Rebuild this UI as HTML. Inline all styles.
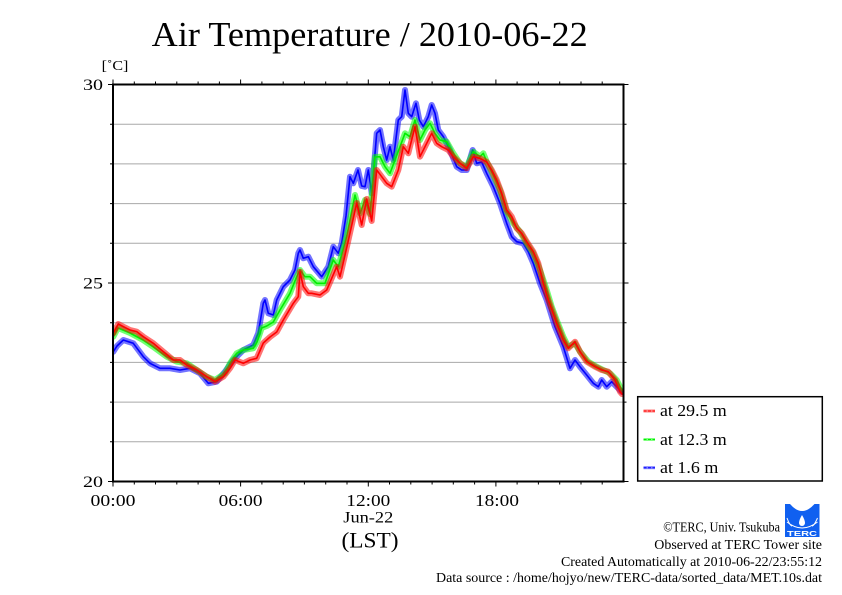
<!DOCTYPE html>
<html><head><meta charset="utf-8">
<style>
html,body{margin:0;padding:0;background:#fff;}
svg{display:block;}
text{font-family:"Liberation Serif","DejaVu Serif",serif;fill:#000;}
</style></head>
<body>
<svg width="842" height="595" viewBox="0 0 842 595" xmlns="http://www.w3.org/2000/svg">
<defs><clipPath id="pc"><rect x="113" y="84.5" width="510.5" height="397"/></clipPath></defs>
<rect width="842" height="595" fill="#fff"/>
<text x="151.7" y="46" font-size="35" textLength="436" lengthAdjust="spacingAndGlyphs">Air Temperature / 2010-06-22</text>
<text x="101.7" y="70" font-size="14" textLength="26.7" lengthAdjust="spacingAndGlyphs">[˚C]</text>
<!-- grid -->
<g stroke="#a8a8a8" stroke-width="1">
<line x1="113" x2="623.5" y1="441.8" y2="441.8"/>
<line x1="113" x2="623.5" y1="402.1" y2="402.1"/>
<line x1="113" x2="623.5" y1="362.4" y2="362.4"/>
<line x1="113" x2="623.5" y1="322.7" y2="322.7"/>
<line x1="113" x2="623.5" y1="283" y2="283"/>
<line x1="113" x2="623.5" y1="243.3" y2="243.3"/>
<line x1="113" x2="623.5" y1="203.6" y2="203.6"/>
<line x1="113" x2="623.5" y1="163.9" y2="163.9"/>
<line x1="113" x2="623.5" y1="124.2" y2="124.2"/>
</g>
<g clip-path="url(#pc)" fill="none" stroke-linejoin="round" stroke-linecap="round">
<polyline stroke="rgba(0,0,255,0.55)" stroke-width="6" id="b" points="113.3,351.7 117,346 123.3,340 133.3,343.3 143.3,356.7 150,363.3 160,368.3 170,368.3 180,370 190,368.3 200,373.3 208.3,383.3 216.7,381.7 225,371.7 233.3,360 243.3,350 253.3,345 258.3,333 263.3,303.3 265,300 268.3,313.3 273.3,315 276.7,300 283.3,286.7 290,280 295,270 298.3,253.3 300,250 303.3,258.3 308.3,256.7 313.3,266.7 321.7,276.7 328.3,266.7 333.3,246.7 338.3,253.3 341.7,243.3 346,216 350,176.7 353.3,183.3 358,170 361.7,186 365,186.7 368.3,170 371.7,193.3 376.7,133.3 380,130 383.3,146.7 386.7,160 390,146.7 393.3,160 398.3,120 401.7,116.7 405,90 408.3,113.3 411.7,116.7 416,103.3 419.3,120 423.3,126.7 428.3,116.7 431.7,105 435,113.3 438.3,130 443.3,136.7 450,150 456.7,166.7 461.7,170 466.7,170 472.7,150 476.7,163.3 481.7,162 486.7,173.3 493.3,186.7 500,203.3 506.7,223.3 511.7,236.7 516.7,241.7 523.3,243.3 528.3,251.7 533.3,263.3 540,283.3 546.7,300 555,326.7 563.3,346.7 570,368.3 575,360 580,366.7 586.7,375 593.3,383.3 598.3,386.7 601.7,380 606.7,386.7 611.7,381.7 616.7,386.7 620,390 622,392"/>
<polyline stroke="#0000ff" stroke-width="1.6" points="113.3,351.7 117,346 123.3,340 133.3,343.3 143.3,356.7 150,363.3 160,368.3 170,368.3 180,370 190,368.3 200,373.3 208.3,383.3 216.7,381.7 225,371.7 233.3,360 243.3,350 253.3,345 258.3,333 263.3,303.3 265,300 268.3,313.3 273.3,315 276.7,300 283.3,286.7 290,280 295,270 298.3,253.3 300,250 303.3,258.3 308.3,256.7 313.3,266.7 321.7,276.7 328.3,266.7 333.3,246.7 338.3,253.3 341.7,243.3 346,216 350,176.7 353.3,183.3 358,170 361.7,186 365,186.7 368.3,170 371.7,193.3 376.7,133.3 380,130 383.3,146.7 386.7,160 390,146.7 393.3,160 398.3,120 401.7,116.7 405,90 408.3,113.3 411.7,116.7 416,103.3 419.3,120 423.3,126.7 428.3,116.7 431.7,105 435,113.3 438.3,130 443.3,136.7 450,150 456.7,166.7 461.7,170 466.7,170 472.7,150 476.7,163.3 481.7,162 486.7,173.3 493.3,186.7 500,203.3 506.7,223.3 511.7,236.7 516.7,241.7 523.3,243.3 528.3,251.7 533.3,263.3 540,283.3 546.7,300 555,326.7 563.3,346.7 570,368.3 575,360 580,366.7 586.7,375 593.3,383.3 598.3,386.7 601.7,380 606.7,386.7 611.7,381.7 616.7,386.7 620,390 622,392"/>
<polyline stroke="rgba(0,255,0,0.55)" stroke-width="6" points="113.3,336.7 118,328 130,333 143,340 153,346.7 166.7,356.7 176.7,361.7 186.7,363.3 196.7,370 206.7,376.7 215,380 225,373.3 230,363.3 236.7,353.3 243.3,350 253.3,348.3 257,342 261.7,328 266.7,326 273.3,322 280,310 290,293.3 296.7,276.7 300,270 305,276.7 310,276.7 316.7,283.3 325,283.3 333.3,260 338.3,266.7 346.7,236 355,195 360,213.3 365,200 370,214 375,157 380,156.7 385,166.7 390,173.3 395,160 400,146.7 405,133.3 410,136.7 415,120 420,140 425,130 430,123.3 435,133.3 440,140 446.7,141.7 453.3,153.3 460,163.3 466.7,166.7 473.3,151.7 480,156.7 483.3,153.3 486.7,161.7 493.3,175 500,190 506.7,211.7 513.3,223.3 520,231.7 526.7,243.3 533.3,253.3 540,270 546.7,290 551.7,306.7 556.7,320 563.3,336.7 568.3,346.7 575,343.3 580,351.7 588.3,361.7 596.7,366.7 603.3,370 610,373.3 616.7,380 620,386.7 622,390"/>
<polyline stroke="#00ee00" stroke-width="1.6" points="113.3,336.7 118,328 130,333 143,340 153,346.7 166.7,356.7 176.7,361.7 186.7,363.3 196.7,370 206.7,376.7 215,380 225,373.3 230,363.3 236.7,353.3 243.3,350 253.3,348.3 257,342 261.7,328 266.7,326 273.3,322 280,310 290,293.3 296.7,276.7 300,270 305,276.7 310,276.7 316.7,283.3 325,283.3 333.3,260 338.3,266.7 346.7,236 355,195 360,213.3 365,200 370,214 375,157 380,156.7 385,166.7 390,173.3 395,160 400,146.7 405,133.3 410,136.7 415,120 420,140 425,130 430,123.3 435,133.3 440,140 446.7,141.7 453.3,153.3 460,163.3 466.7,166.7 473.3,151.7 480,156.7 483.3,153.3 486.7,161.7 493.3,175 500,190 506.7,211.7 513.3,223.3 520,231.7 526.7,243.3 533.3,253.3 540,270 546.7,290 551.7,306.7 556.7,320 563.3,336.7 568.3,346.7 575,343.3 580,351.7 588.3,361.7 596.7,366.7 603.3,370 610,373.3 616.7,380 620,386.7 622,390"/>
<polyline stroke="rgba(255,0,0,0.55)" stroke-width="6" points="113.3,333.3 118.3,324 124,327 130,330 136.7,331.7 143.3,336.7 153.3,343.3 163.3,351.7 173.3,360 180,360 186.7,365 196.7,370 206.7,376.7 215,381.7 223.3,376.7 230,368.3 235,360 243.3,363.3 250,360 256.7,358.3 263.3,343 270,337 276.7,332 283.3,320 293.3,303.3 298.3,296.7 300,271.7 303.3,286.7 308.3,293.3 311.7,293.3 320,295 326.7,290 336.7,266.7 340,276.7 348,242 356.7,203 361.7,225 366.7,199 371.7,221 376.7,170 381.7,176.7 386.7,183.3 391.7,186.7 398.3,170 403.3,146.7 408.3,153.3 415,126.7 420,156.7 425,146.7 431.7,133.3 436.7,143.3 441.7,146.7 448.3,150 453.3,156.7 460,163.3 466.7,168.3 473.3,156.7 480,158.3 486.7,162 491.7,170 496.7,180 501.7,193.3 506.7,210 511.7,216.7 516.7,228.3 521.7,233.3 526.7,241.7 533.3,251.7 538.3,263.3 543.3,283.3 548.3,300 556.7,323.3 563.3,340 568.3,348.3 575,341.7 580,351.7 586.7,361.7 595,366.7 601.7,370 608.3,371.7 615,380 620,391.7 622,394"/>
<polyline stroke="#ff0000" stroke-width="1.6" points="113.3,333.3 118.3,324 124,327 130,330 136.7,331.7 143.3,336.7 153.3,343.3 163.3,351.7 173.3,360 180,360 186.7,365 196.7,370 206.7,376.7 215,381.7 223.3,376.7 230,368.3 235,360 243.3,363.3 250,360 256.7,358.3 263.3,343 270,337 276.7,332 283.3,320 293.3,303.3 298.3,296.7 300,271.7 303.3,286.7 308.3,293.3 311.7,293.3 320,295 326.7,290 336.7,266.7 340,276.7 348,242 356.7,203 361.7,225 366.7,199 371.7,221 376.7,170 381.7,176.7 386.7,183.3 391.7,186.7 398.3,170 403.3,146.7 408.3,153.3 415,126.7 420,156.7 425,146.7 431.7,133.3 436.7,143.3 441.7,146.7 448.3,150 453.3,156.7 460,163.3 466.7,168.3 473.3,156.7 480,158.3 486.7,162 491.7,170 496.7,180 501.7,193.3 506.7,210 511.7,216.7 516.7,228.3 521.7,233.3 526.7,241.7 533.3,251.7 538.3,263.3 543.3,283.3 548.3,300 556.7,323.3 563.3,340 568.3,348.3 575,341.7 580,351.7 586.7,361.7 595,366.7 601.7,370 608.3,371.7 615,380 620,391.7 622,394"/>
</g>
<!-- frame -->
<rect x="113" y="84.5" width="510.5" height="397" fill="none" stroke="#000" stroke-width="2"/>
<!-- y ticks -->
<g stroke="#000" stroke-width="1">
<path d="M108,84.5H113M110,124.2H113M110,163.9H113M110,203.6H113M110,243.3H113M108,283H113M110,322.7H113M110,362.4H113M110,402.1H113M110,441.8H113M108,481.5H113"/>
<path d="M623.5,84.5H628.5M623.5,124.2H626.5M623.5,163.9H626.5M623.5,203.6H626.5M623.5,243.3H626.5M623.5,283H628.5M623.5,322.7H626.5M623.5,362.4H626.5M623.5,402.1H626.5M623.5,441.8H626.5M623.5,481.5H628.5"/>
<path d="M113,84.5V79.5M134.3,84.5V81.5M155.5,84.5V81.5M176.8,84.5V81.5M198.1,84.5V81.5M219.4,84.5V81.5M240.6,84.5V79.5M261.9,84.5V81.5M283.2,84.5V81.5M304.4,84.5V81.5M325.7,84.5V81.5M347,84.5V81.5M368.3,84.5V79.5M389.5,84.5V81.5M410.8,84.5V81.5M432.1,84.5V81.5M453.3,84.5V81.5M474.6,84.5V81.5M495.9,84.5V79.5M517.1,84.5V81.5M538.4,84.5V81.5M559.7,84.5V81.5M581,84.5V81.5M602.2,84.5V81.5"/>
<path d="M113,481.5V486.5M134.3,481.5V484.5M155.5,481.5V484.5M176.8,481.5V484.5M198.1,481.5V484.5M219.4,481.5V484.5M240.6,481.5V486.5M261.9,481.5V484.5M283.2,481.5V484.5M304.4,481.5V484.5M325.7,481.5V484.5M347,481.5V484.5M368.3,481.5V486.5M389.5,481.5V484.5M410.8,481.5V484.5M432.1,481.5V484.5M453.3,481.5V484.5M474.6,481.5V484.5M495.9,481.5V486.5M517.1,481.5V484.5M538.4,481.5V484.5M559.7,481.5V484.5M581,481.5V484.5M602.2,481.5V484.5"/>
</g>
<!-- y labels -->
<text x="103" y="90" font-size="16" text-anchor="end" textLength="20" lengthAdjust="spacingAndGlyphs">30</text>
<text x="103" y="288.5" font-size="16" text-anchor="end" textLength="20" lengthAdjust="spacingAndGlyphs">25</text>
<text x="103" y="487" font-size="16" text-anchor="end" textLength="20" lengthAdjust="spacingAndGlyphs">20</text>
<!-- x labels -->
<text x="113" y="506" font-size="17" text-anchor="middle" textLength="45" lengthAdjust="spacingAndGlyphs">00:00</text>
<text x="240.6" y="506" font-size="17" text-anchor="middle" textLength="44" lengthAdjust="spacingAndGlyphs">06:00</text>
<text x="368.3" y="506" font-size="17" text-anchor="middle" textLength="44" lengthAdjust="spacingAndGlyphs">12:00</text>
<text x="497" y="506" font-size="17" text-anchor="middle" textLength="44" lengthAdjust="spacingAndGlyphs">18:00</text>
<text x="368.3" y="522.5" font-size="16" text-anchor="middle" textLength="50" lengthAdjust="spacingAndGlyphs">Jun-22</text>
<text x="370" y="547.5" font-size="22" text-anchor="middle" textLength="57" lengthAdjust="spacingAndGlyphs">(LST)</text>
<!-- legend -->
<rect x="637.7" y="396.7" width="184.6" height="84.3" fill="#fff" stroke="#000" stroke-width="1.5"/>
<g stroke-linecap="butt">
<line x1="643.5" x2="655" y1="411" y2="411" stroke="rgba(255,0,0,0.5)" stroke-width="3"/>
<line x1="643.5" x2="655" y1="411" y2="411" stroke="#ff0000" stroke-width="1" stroke-dasharray="3,1.5"/>
<line x1="643.5" x2="655" y1="439.5" y2="439.5" stroke="rgba(0,255,0,0.5)" stroke-width="3"/>
<line x1="643.5" x2="655" y1="439.5" y2="439.5" stroke="#00ee00" stroke-width="1" stroke-dasharray="3,1.5"/>
<line x1="643.5" x2="655" y1="467.7" y2="467.7" stroke="rgba(0,0,255,0.5)" stroke-width="3"/>
<line x1="643.5" x2="655" y1="467.7" y2="467.7" stroke="#0000ff" stroke-width="1" stroke-dasharray="3,1.5"/>
</g>
<text x="660" y="416" font-size="17" textLength="66.7" lengthAdjust="spacingAndGlyphs">at 29.5 m</text>
<text x="660" y="445" font-size="17" textLength="66.7" lengthAdjust="spacingAndGlyphs">at 12.3 m</text>
<text x="660" y="473" font-size="17" textLength="58.3" lengthAdjust="spacingAndGlyphs">at 1.6 m</text>
<!-- logo -->
<g>
<rect x="785" y="504" width="34.5" height="33" fill="#1060f0"/>
<path d="M790,504 Q802,518 814.5,504 Z" fill="#fff"/>
<path d="M802,515 Q805,520 805,523 A3,3 0 0 1 799,523 Q799,520 802,515 Z" fill="#fff"/>
<path d="M787,522 Q802,534 817.5,522" fill="none" stroke="#fff" stroke-width="1"/>
<path d="M787,518 Q790,526 792,526 M817.5,518 Q814,526 812,526" fill="none" stroke="#fff" stroke-width="1"/>
<text x="802" y="536" font-family="Liberation Sans,sans-serif" font-size="7" font-weight="bold" text-anchor="middle" style="fill:#fff;font-family:'Liberation Sans',sans-serif" textLength="30" lengthAdjust="spacingAndGlyphs">TERC</text>
</g>
<!-- footer -->
<text x="780" y="531.5" font-size="13.5" text-anchor="end" textLength="116.7" lengthAdjust="spacingAndGlyphs">©TERC, Univ. Tsukuba</text>
<text x="822" y="549" font-size="14" text-anchor="end" textLength="167.7" lengthAdjust="spacingAndGlyphs">Observed at TERC Tower site</text>
<text x="822" y="566" font-size="14" text-anchor="end" textLength="261" lengthAdjust="spacingAndGlyphs">Created Automatically at 2010-06-22/23:55:12</text>
<text x="822" y="582" font-size="14" text-anchor="end" textLength="386" lengthAdjust="spacingAndGlyphs">Data source : /home/hojyo/new/TERC-data/sorted_data/MET.10s.dat</text>
</svg>
</body></html>
